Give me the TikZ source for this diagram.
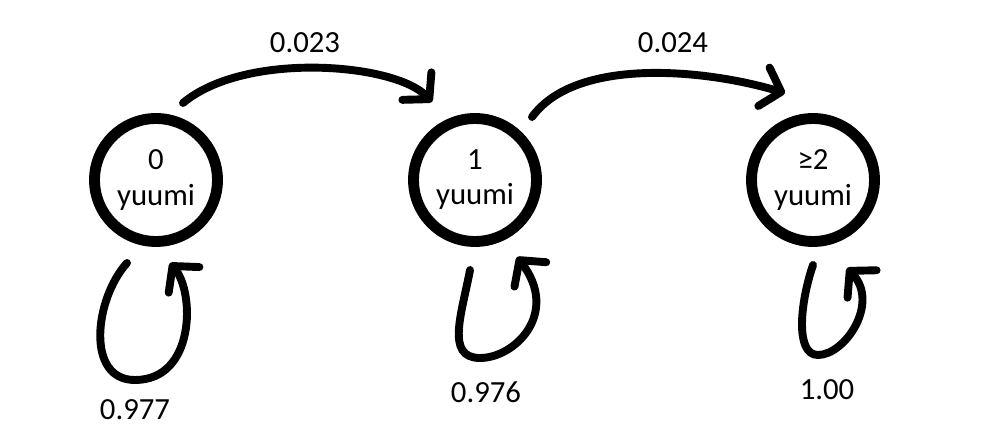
\documentclass[tikz,border=0pt]{standalone}
\usepackage{fontspec}
\setmainfont{Carlito}
\usepackage{tikz}
\usetikzlibrary{arrows.meta}

\tikzset{
  estado/.style={circle, draw, line width=6.2pt, minimum size=2.46cm, inner sep=0pt, align=center, font=\fontsize{17.5}{20}\selectfont},
  traco/.style={line width=4.5pt, line cap=round, -{Straight Barb[length=0.36cm, width=0.8cm, round]}},
  rotulo/.style={font=\fontsize{17.5}{20}\selectfont}
}

\begin{document}
\begin{tikzpicture}[x=0.02cm, y=0.02cm]

\useasboundingbox (0,0) rectangle (1000,443);

% Estados
\node[estado] (n0) at (156,263) {0\\yuumi};
\node[estado] (n1) at (475,263) {1\\yuumi};
\node[estado] (n2) at (813,263) {≥2\\yuumi};

% Pontas soltas das setas
\coordinate (a0) at (183,340);
\coordinate (b1) at (432,341);
\coordinate (a1) at (532,326);
\coordinate (b2) at (785,350);

% Transicoes
\draw[traco] (a0) .. controls (245,392) and (395,380) .. (b1);
\draw[traco] (a1) .. controls (575,385) and (700,375) .. (b2);
\node[rotulo] (p01) at (305,400) {0.023};
\node[rotulo] (p12) at (673,400) {0.024};

% Lacos
\coordinate (s0) at (127,180);
\coordinate (e0) at (170,180);
\draw[traco] (s0) .. controls (95,145) and (85,63) .. (135,63) .. controls (195,63) and (195,150) .. (e0);
\node[rotulo] (p00) at (135,33) {0.977};

\coordinate (s1) at (470,173);
\coordinate (e1) at (517,186);
\draw[traco] (s1) .. controls (462,130) and (445,85) .. (480,85) .. controls (515,85) and (560,130) .. (e1);
\node[rotulo] (p11) at (486,51) {0.976};

\coordinate (s2) at (813,178);
\coordinate (e2) at (847,175);
\draw[traco] (s2) .. controls (800,140) and (795,88) .. (818,88) .. controls (845,88) and (880,140) .. (e2);
\node[rotulo] (p22) at (827,53) {1.00};

\end{tikzpicture}
\end{document}
